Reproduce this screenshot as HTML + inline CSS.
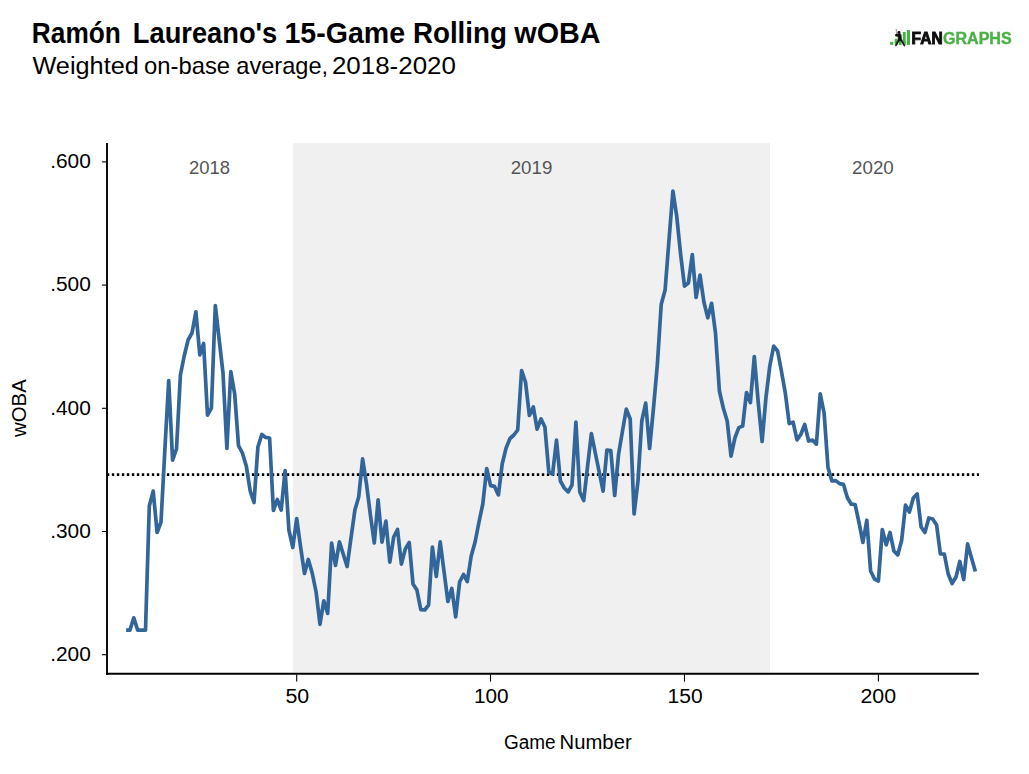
<!DOCTYPE html>
<html><head><meta charset="utf-8">
<style>
html,body{margin:0;padding:0;background:#fff;}
body{width:1029px;height:774px;overflow:hidden;font-family:"Liberation Sans",sans-serif;}
svg{display:block;}
text{font-family:"Liberation Sans",sans-serif;}
</style></head><body>
<svg width="1029" height="774" viewBox="0 0 1029 774">
<rect width="1029" height="774" fill="#ffffff"/>
<rect x="293" y="143" width="477" height="529.5" fill="#f0f0f0"/>
<text transform="translate(31.81,43.4) scale(0.8939,1)" font-size="29.4" font-weight="bold" style="fill:#000">Ramón</text>
<text transform="translate(132.84,43.4) scale(0.9279,1)" font-size="29.4" font-weight="bold" style="fill:#000">Laureano's</text>
<text transform="translate(284.48,43.4) scale(0.9715,1)" font-size="29.4" font-weight="bold" style="fill:#000">15-Game</text>
<text transform="translate(412.91,43.4) scale(0.9443,1)" font-size="29.4" font-weight="bold" style="fill:#000">Rolling</text>
<text transform="translate(514.30,43.4) scale(0.9785,1)" font-size="29.4" font-weight="bold" style="fill:#000">wOBA</text>
<text transform="translate(32.46,74.1) scale(1.0811,1)" font-size="23.4" font-weight="normal" style="fill:#000">Weighted</text>
<text transform="translate(143.98,74.1) scale(1.0182,1)" font-size="23.4" font-weight="normal" style="fill:#000">on-base</text>
<text transform="translate(236.29,74.1) scale(1.0080,1)" font-size="23.4" font-weight="normal" style="fill:#000">average,</text>
<text transform="translate(331.95,74.1) scale(1.1085,1)" font-size="23.4" font-weight="normal" style="fill:#000">2018-2020</text>
<text transform="translate(189.01,174) scale(1.0201,1)" font-size="18.1" font-weight="normal" style="fill:#555">2018</text>
<text transform="translate(510.70,174) scale(1.0338,1)" font-size="18.1" font-weight="normal" style="fill:#555">2019</text>
<text transform="translate(852.09,174) scale(1.0356,1)" font-size="18.1" font-weight="normal" style="fill:#555">2020</text>
<text transform="translate(50.22,168.2) scale(1.0766,1)" font-size="19.4" font-weight="normal" style="fill:#000">.600</text>
<text transform="translate(50.22,291.4) scale(1.0766,1)" font-size="19.4" font-weight="normal" style="fill:#000">.500</text>
<text transform="translate(50.22,414.6) scale(1.0766,1)" font-size="19.4" font-weight="normal" style="fill:#000">.400</text>
<text transform="translate(50.22,537.8) scale(1.0766,1)" font-size="19.4" font-weight="normal" style="fill:#000">.300</text>
<text transform="translate(50.22,661.05) scale(1.0766,1)" font-size="19.4" font-weight="normal" style="fill:#000">.200</text>
<text transform="translate(285.44,702.8) scale(1.1019,1)" font-size="19.4" font-weight="normal" style="fill:#000">50</text>
<text transform="translate(473.90,702.8) scale(1.0689,1)" font-size="19.4" font-weight="normal" style="fill:#000">100</text>
<text transform="translate(667.57,702.8) scale(1.0855,1)" font-size="19.4" font-weight="normal" style="fill:#000">150</text>
<text transform="translate(860.50,702.8) scale(1.1004,1)" font-size="19.4" font-weight="normal" style="fill:#000">200</text>
<text transform="translate(503.93,748.5) scale(0.9737,1)" font-size="19.5" font-weight="normal" style="fill:#000">Game</text>
<text transform="translate(559.61,748.5) scale(1.0390,1)" font-size="19.5" font-weight="normal" style="fill:#000">Number</text>
<text transform="translate(25.8,436.90) rotate(-90) scale(1.0431,1)" font-size="19.5" style="fill:#000">wOBA</text>
<line x1="106.85" y1="474.6" x2="979" y2="474.6" stroke="#000" stroke-width="2.6" stroke-dasharray="2.4 2.6"/>
<polyline fill="none" stroke="#326599" stroke-width="3.7" stroke-linejoin="round" stroke-linecap="butt" points="126.1,630.2 129.9,630.2 133.8,617.8 137.7,630.2 141.6,630.2 145.5,630.2 149.3,506.0 153.2,491.1 157.1,532.5 161.0,522.0 164.8,451.0 168.7,380.5 172.6,460.1 176.5,449.0 180.4,375.0 184.2,356.0 188.1,340.0 192.0,333.0 195.9,311.9 199.8,354.9 203.6,343.5 207.5,415.1 211.4,408.0 215.3,305.5 219.1,339.0 223.0,373.0 226.9,448.5 230.8,371.5 234.7,394.0 238.5,445.6 242.4,453.0 246.3,466.0 250.2,491.0 254.0,502.5 257.9,447.0 261.8,434.5 265.7,437.4 269.6,438.0 273.4,510.5 277.3,499.5 281.2,510.1 285.1,470.5 288.9,530.0 292.8,547.5 296.7,518.5 300.6,547.0 304.5,573.5 308.3,559.5 312.2,573.0 316.1,592.0 320.0,624.3 323.8,600.9 327.7,613.4 331.6,543.1 335.5,565.5 339.4,541.9 343.2,554.0 347.1,566.5 351.0,538.0 354.9,510.0 358.7,497.0 362.6,458.9 366.5,484.0 370.4,515.0 374.3,542.9 378.1,499.9 382.0,542.1 385.9,521.1 389.8,562.1 393.7,537.0 397.5,529.5 401.4,564.1 405.3,549.0 409.2,542.5 413.0,584.0 416.9,590.0 420.8,609.6 424.7,610.0 428.6,605.0 432.4,547.1 436.3,576.5 440.2,541.9 444.1,572.0 447.9,601.5 451.8,588.5 455.7,616.9 459.6,582.0 463.5,574.5 467.3,581.5 471.2,556.0 475.1,542.0 479.0,522.0 482.8,504.0 486.7,468.5 490.6,485.6 494.5,486.4 498.4,494.9 502.2,464.0 506.1,448.0 510.0,438.5 513.9,435.0 517.7,430.0 521.6,370.5 525.5,382.0 529.4,415.5 533.3,406.9 537.1,429.1 541.0,418.9 544.9,427.0 548.8,472.0 552.6,474.0 556.5,440.1 560.4,481.0 564.3,488.0 568.2,491.9 572.0,485.0 575.9,422.1 579.8,492.0 583.7,500.5 587.5,467.0 591.4,433.5 595.3,453.0 599.2,472.0 603.1,491.1 606.9,450.0 610.8,450.6 614.7,495.5 618.6,454.0 622.5,431.0 626.3,409.1 630.2,419.0 634.1,514.0 638.0,481.0 641.8,421.0 645.7,403.1 649.6,448.5 653.5,408.0 657.4,364.0 661.2,304.5 665.1,290.0 669.0,240.0 672.9,191.1 676.7,216.0 680.6,254.0 684.5,286.1 688.4,283.0 692.3,254.5 696.1,297.5 700.0,275.1 703.9,302.0 707.8,317.9 711.6,303.3 715.5,333.0 719.4,391.0 723.3,408.0 727.2,421.0 731.0,456.1 734.9,438.0 738.8,427.6 742.7,426.0 746.5,392.5 750.4,402.5 754.3,356.5 758.2,402.0 762.1,441.5 765.9,398.0 769.8,366.0 773.7,346.1 777.6,351.0 781.4,371.0 785.3,393.0 789.2,423.6 793.1,422.2 797.0,439.9 800.8,434.5 804.7,424.5 808.6,441.0 812.5,440.0 816.4,444.1 820.2,393.9 824.1,413.0 828.0,467.5 831.9,481.0 835.7,480.6 839.6,483.6 843.5,484.4 847.4,497.8 851.3,504.2 855.1,504.5 859.0,522.5 862.9,542.5 866.8,520.2 870.6,571.0 874.5,579.0 878.4,581.0 882.3,529.5 886.2,544.9 890.0,532.5 893.9,551.0 897.8,554.9 901.7,540.0 905.5,505.1 909.4,512.1 913.3,498.0 917.2,493.9 921.1,527.0 924.9,532.5 928.8,518.0 932.7,519.0 936.6,525.0 940.4,554.0 944.3,554.0 948.2,574.0 952.1,583.5 956.0,577.0 959.8,561.5 963.7,579.5 967.6,543.9 971.5,558.0 975.4,571.6"/>
<line x1="107" y1="143.1" x2="107" y2="674.8" stroke="#000" stroke-width="1.9"/>
<line x1="106.05" y1="673.75" x2="978.8" y2="673.75" stroke="#000" stroke-width="2.1"/>
<g stroke="#000" stroke-width="1.1">
<line x1="101.9" y1="161.9" x2="106.5" y2="161.9"/>
<line x1="101.9" y1="285.1" x2="106.5" y2="285.1"/>
<line x1="101.9" y1="408.3" x2="106.5" y2="408.3"/>
<line x1="101.9" y1="531.5" x2="106.5" y2="531.5"/>
<line x1="101.9" y1="654.7" x2="106.5" y2="654.7"/>
<line x1="296.7" y1="674.5" x2="296.7" y2="681.6"/>
<line x1="490.5" y1="674.5" x2="490.5" y2="681.6"/>
<line x1="684.5" y1="674.5" x2="684.5" y2="681.6"/>
<line x1="878.4" y1="674.5" x2="878.4" y2="681.6"/>
</g>
<defs><filter id="bl" x="-5%" y="-20%" width="110%" height="140%"><feGaussianBlur stdDeviation="0.35"/></filter></defs>
<rect x="887" y="27.5" width="127" height="21" fill="#fdfdfd"/>
<g filter="url(#bl)">
<g fill="#4cb048">
<rect x="890.1" y="41.9" width="3.1" height="3"/>
<rect x="894.7" y="38.9" width="2.7" height="6"/>
<rect x="898.8" y="34.2" width="2.8" height="10.7"/>
<rect x="902.8" y="32" width="2.95" height="12.9"/>
<rect x="906.9" y="30" width="3.1" height="14.9"/>
</g>
<path d="M895.6,28.9 L896.9,28.7 L897.4,33.7 L896.2,33.9 Z" fill="#b0b0b0"/>
<circle cx="899" cy="32.4" r="1.45" fill="#111"/>
<path d="M895.3,35.0 L896.0,34.1 L898.0,33.9 L900.2,33.6 L900.9,35.5 L901.2,38.5 L902.5,41 L904.3,44.5 L904.9,46 L904.1,46.1 L902.5,43.2 L900.2,40.3 L898.5,42 L896.5,45.6 L895.4,45.8 L896.3,43.5 L898.0,40 L898.3,37.5 L897.8,36.2 L895.6,36.1 Z" fill="#111" stroke="#111" stroke-width="0.7" stroke-linejoin="round"/>
<text transform="translate(911.61,44.00) scale(0.8689,0.9187)" font-size="17.9" font-weight="bold" style="fill:#111;stroke:#111;stroke-width:1.0;stroke-linejoin:miter">FAN</text>
<text transform="translate(942.95,44.27) scale(0.8978,0.9634)" font-size="17.9" font-weight="bold" style="fill:#4cb048;stroke:#4cb048;stroke-width:0.45;stroke-linejoin:miter">GRAPHS</text></g>
</svg>
</body></html>
